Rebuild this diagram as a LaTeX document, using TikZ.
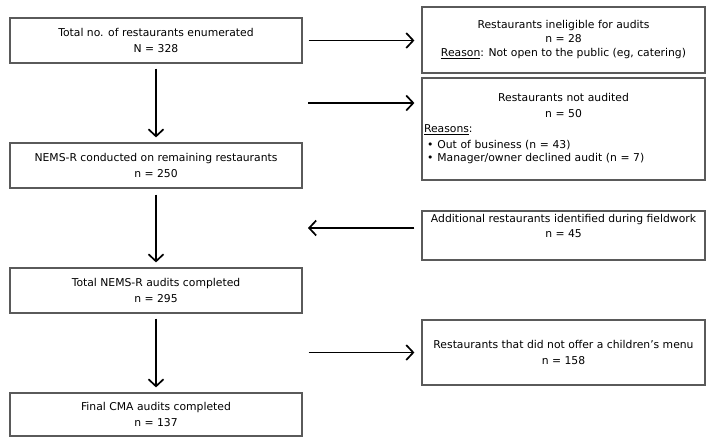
\documentclass[tikz,border=0pt]{standalone}
\usepackage{fontspec}
\setmainfont{DejaVu Sans}
\usetikzlibrary{arrows.meta, positioning}
\definecolor{BoxGray}{HTML}{5A5A5A}

\begin{document}
\begin{tikzpicture}[x=1pt, y=-1pt,
    box/.style={draw=BoxGray, line width=1.2pt, align=center, inner sep=2pt,
      font=\fontsize{10.8}{15.5}\selectfont},
    flow/.style={-{Straight Barb[length=7pt, width=15pt]}, line width=1.7pt,
      shorten <=5pt, shorten >=5pt}]

  \useasboundingbox (0,0) rectangle (706,437);

  % --- 1. Main column (left side) ---
  \node[box, minimum width=292pt, minimum height=45pt] (enum) at (156, 40.5)
    {Total no. of restaurants enumerated\\N = 328};
  \node[box, minimum width=292pt, minimum height=45pt] (nemsr) at (156, 165.5)
    {NEMS-R conducted on remaining restaurants\\n = 250};
  \node[box, minimum width=292pt, minimum height=45pt] (totaud) at (156, 290.5)
    {Total NEMS-R audits completed\\n = 295};
  \node[box, minimum width=292pt, minimum height=43pt] (cma) at (156, 414.5)
    {Final CMA audits completed\\n = 137};

  % --- 2. Exclusions and additions (right side) ---
  \node[box, minimum width=283pt, minimum height=66pt,
    font=\fontsize{10.8}{14}\selectfont] (inelig) at (563.5, 40)
    {Restaurants ineligible for audits\\n = 28\\\underline{Reason}: Not open to the public (eg, catering)};
  \node[box, minimum width=283pt, minimum height=102pt, text width=279pt] (notaud) at (563.5, 129)
    {Restaurants not audited\\n = 50\\
     \makebox[\linewidth][l]{\underline{Reasons}:}\\
     \makebox[\linewidth][l]{\hspace{3pt}\textbullet\hspace{4pt}Out of business (n = 43)}\\[-2pt]
     \makebox[\linewidth][l]{\hspace{3pt}\textbullet\hspace{4pt}Manager/owner declined audit (n = 7)}};
  \node[box, minimum width=283pt, minimum height=49pt] (extra) at (563.5, 235.5)
    {Additional restaurants identified during fieldwork\\n = 45\\[4pt]};
  \node[box, minimum width=283pt, minimum height=65pt] (nochild) at (563.5, 352.5)
    {Restaurants that did not offer a children's menu\\n = 158};

  % --- 3. Arrows ---
  \draw[flow] (enum) -- (nemsr);
  \draw[flow, shorten <=6pt] (nemsr) -- (totaud);
  \draw[flow] (totaud) -- (cma);

  \coordinate (gap1) at (enum.east);
  \coordinate (gap2) at (302, 103);
  \coordinate (gap3) at (302, 228);
  \draw[flow, shorten <=6pt, shorten >=7pt] (gap1) -- (gap1 -| inelig.west);
  \draw[flow, shorten <=6pt, shorten >=7pt] (gap2) -- (gap2 -| notaud.west);
  \draw[flow, shorten <=7pt, shorten >=6pt] (gap3 -| extra.west) -- (gap3);
  \draw[flow, shorten <=6pt, shorten >=7pt] (nochild.west -| totaud.east) -- (nochild.west);

\end{tikzpicture}
\end{document}
